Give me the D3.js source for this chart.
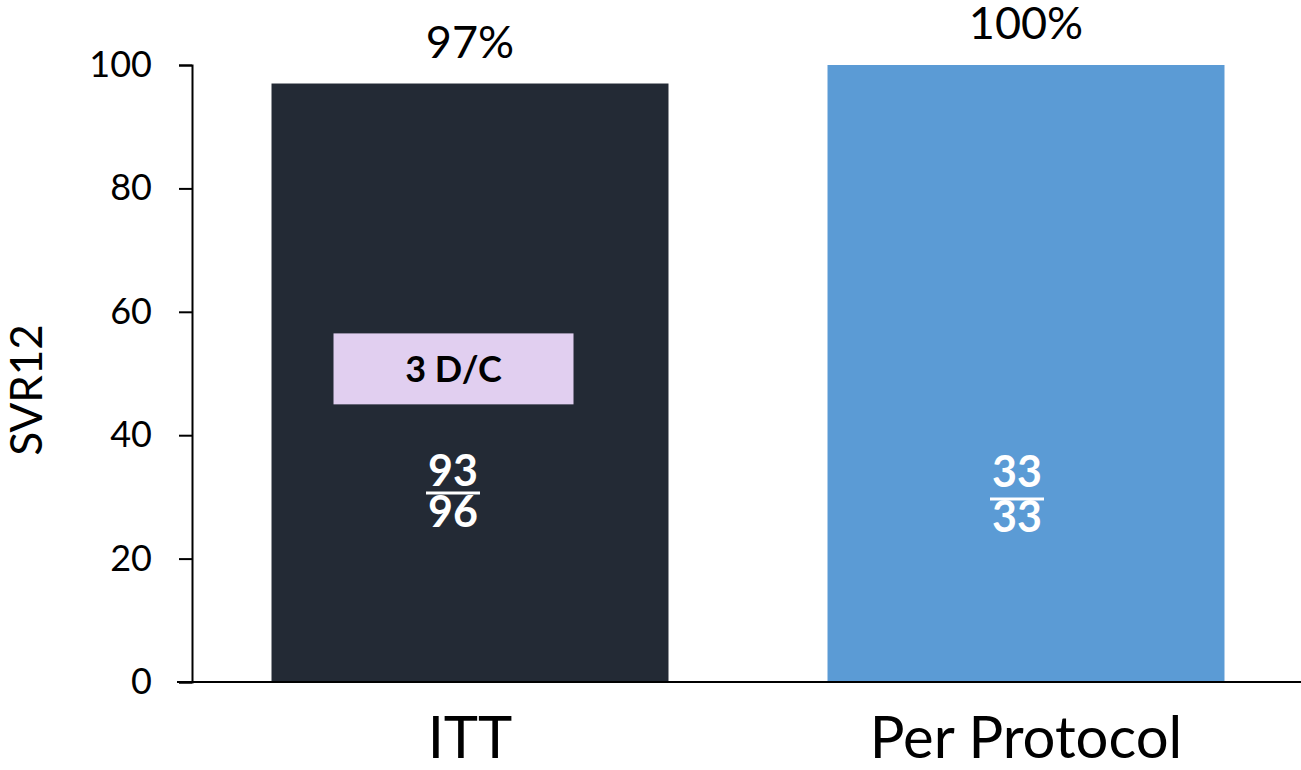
<!DOCTYPE html>
<html>
<head>
<meta charset="utf-8">
<script src="https://cdn.jsdelivr.net/npm/d3@7"></script>
<style>
  html, body { margin: 0; padding: 0; background: #fff; }
  svg { display: block; font-family: Lato, "Open Sans", sans-serif; }
</style>
</head>
<body>
<svg id="chart" width="1301" height="770"></svg>
<script>
// SVR12 by analysis population
const categories = ["ITT", "Per Protocol"];
const svrValues = [97, 100];
const responders = [93, 33];
const totals = [96, 33];
const valueLabels = ["97%", "100%"];
const barColors = ["#232a35", "#5b9bd5"];
const yTicks = [0, 20, 40, 60, 80, 100];
const noteText = "3 D/C";
const noteRange = [45, 56.5]; // y-extent of the discontinuation note box

const svg = d3.select("#chart");

const x = d3.scaleBand()
  .domain(categories)
  .range([192, 1304])
  .paddingInner(0.286)
  .paddingOuter(0.143);

const y = d3.scaleLinear().domain([0, 100]).range([682, 65]);

// Bars
svg.selectAll("rect.bar")
  .data(categories)
  .join("rect")
  .attr("class", "bar")
  .attr("x", d => x(d))
  .attr("y", (d, i) => y(svrValues[i]))
  .attr("width", x.bandwidth())
  .attr("height", (d, i) => y(0) - y(svrValues[i]))
  .attr("fill", (d, i) => barColors[i]);

// Y axis
const yAxis = d3.axisLeft(y).tickValues(yTicks).tickSize(13).tickSizeOuter(13).tickPadding(27);
const gy = svg.append("g").attr("transform", "translate(192,0)").call(yAxis);
gy.select(".domain").attr("stroke", "#000").attr("stroke-width", 2);
gy.selectAll(".tick line").attr("stroke", "#000").attr("stroke-width", 2);
gy.selectAll(".tick text")
  .attr("font-size", 36)
  .attr("fill", "#000")
  .attr("font-family", "Lato, sans-serif");

// X axis baseline
svg.append("line")
  .attr("x1", 177).attr("x2", 1301)
  .attr("y1", y(0)).attr("y2", y(0))
  .attr("stroke", "#000").attr("stroke-width", 2);

// Category labels
svg.selectAll("text.cat")
  .data(categories)
  .join("text")
  .attr("class", "cat")
  .attr("x", d => x(d) + x.bandwidth() / 2)
  .attr("y", 758)
  .attr("text-anchor", "middle")
  .attr("font-size", 58)
  .attr("fill", "#000")
  .text(d => d);

// Y axis title
svg.append("text")
  .attr("transform", "translate(42,390) rotate(-90)")
  .attr("text-anchor", "middle")
  .attr("font-size", 44)
  .attr("fill", "#000")
  .text("SVR12");

// Value labels above bars
svg.selectAll("text.val")
  .data(categories)
  .join("text")
  .attr("class", "val")
  .attr("x", d => x(d) + x.bandwidth() / 2)
  .attr("y", (d, i) => y(svrValues[i]) - 26)
  .attr("text-anchor", "middle")
  .attr("font-size", 45)
  .attr("fill", "#000")
  .text((d, i) => valueLabels[i]);

// Discontinuation note on the ITT bar
const noteX0 = x(categories[0]) + 62;
const noteW = 240;
svg.append("rect")
  .attr("x", noteX0)
  .attr("y", y(noteRange[1]))
  .attr("width", noteW)
  .attr("height", y(noteRange[0]) - y(noteRange[1]))
  .attr("fill", "#e1cff0");
svg.append("text")
  .attr("x", noteX0 + noteW / 2)
  .attr("y", (y(noteRange[0]) + y(noteRange[1])) / 2 + 13)
  .attr("text-anchor", "middle")
  .attr("font-size", 36)
  .attr("font-weight", "bold")
  .attr("fill", "#000")
  .text(noteText);

// Responder fractions inside the bars
const fracOffsets = [-17, -9];
const frac = svg.selectAll("g.frac")
  .data(categories)
  .join("g")
  .attr("class", "frac")
  .attr("transform", (d, i) => `translate(${x(d) + x.bandwidth() / 2 + fracOffsets[i]},0)`);

frac.append("text")
  .attr("y", (d, i) => i === 0 ? 486 : 487)
  .attr("text-anchor", "middle")
  .attr("font-size", 43)
  .attr("font-weight", "bold")
  .attr("fill", "#fff")
  .text((d, i) => responders[i]);
frac.append("line")
  .attr("x1", -27).attr("x2", 27)
  .attr("y1", (d, i) => i === 0 ? 493 : 499)
  .attr("y2", (d, i) => i === 0 ? 493 : 499)
  .attr("stroke", "#fff").attr("stroke-width", 3);
frac.append("text")
  .attr("y", (d, i) => i === 0 ? 527 : 532)
  .attr("text-anchor", "middle")
  .attr("font-size", 43)
  .attr("font-weight", "bold")
  .attr("fill", "#fff")
  .text((d, i) => totals[i]);
</script>
</body>
</html>
